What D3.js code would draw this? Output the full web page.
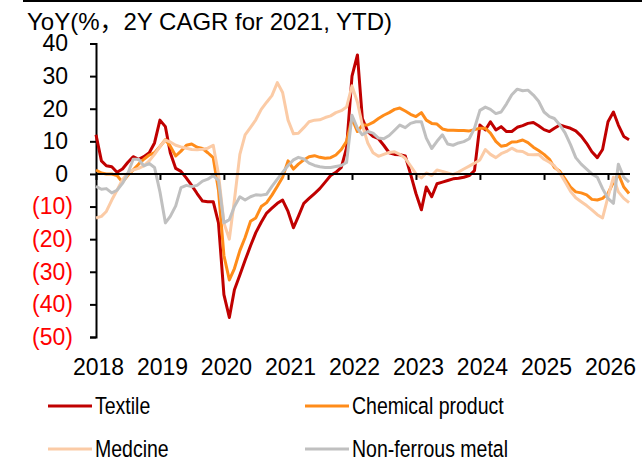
<!DOCTYPE html>
<html>
<head>
<meta charset="utf-8">
<script src="https://cdnjs.cloudflare.com/ajax/libs/d3/7.8.5/d3.min.js"></script>
<style>
  body { margin: 0; background: #fff; }
  svg { display: block; font-family: "Liberation Sans", Arial, "Noto Sans CJK SC", sans-serif; }
</style>
</head>
<body>
<svg width="642" height="464"></svg>
<script>
// monthly points, Jan 2018 .. May 2026
let months = d3.timeMonth.range(new Date(2018, 0, 1), new Date(2026, 5, 1));
let years = [2018, 2019, 2020, 2021, 2022, 2023, 2024, 2025, 2026];
let yTicks = [-50, -40, -30, -20, -10, 0, 10, 20, 30, 40];

let seriesNames = ["Textile", "Chemical product", "Medcine", "Non-ferrous metal"];
let seriesColors = ["#C00000", "#FF8C1A", "#FBCBA6", "#C0C0C0"];

let textile = [12, 4, 2.5, 2.2, 0.5, 1.5, 3.5, 5.3, 4.5, 5.3, 6.5, 9.5, 16.5, 14.5, 6.5, 1.7, 0.8, -1.3, -3.5, -6,
  -8.3, -8.5, -8.5, -15, -37, -44, -35.5, -31, -26.5, -22, -18, -14.8, -12, -10.5, -9, -8, -11.5, -16.5, -13, -9,
  -7.5, -6, -4.5, -2.5, -0.5, 0.5, 2, 8, 30, 36.5, 17, 13, 11.5, 10.8, 8.8, 6.5, 6, 5.9, 5.5, 0,
  -6, -11, -4, -7, -3, -2.5, -2, -1.5, -1.3, -1, -0.5, 1, 15, 13.5, 16, 13.5, 14.5, 13, 13, 14.3,
  14.8, 15.5, 15.8, 14.8, 13.6, 13, 14, 15, 14.5, 14, 13.2, 11.6, 9.4, 6.8, 5, 7.5, 16, 19, 15, 11.5, 10.5];

let chemical = [1.2, 0.3, 0, 0, -0.5, -2.5, -0.5, 1.2, 3, 4.5, 5.8, 6.5, 8.4, 10.5, 8.5, 5.5, 7, 8.8, 9.2, 8.2,
  7.8, 6.5, 5, -5, -25, -32.5, -29, -23.5, -19.5, -14.5, -13.5, -10, -8.8, -6.5, -3.8, -1, 4, 1.5, 3, 4.3,
  5.3, 5.6, 5.1, 4.8, 5, 5.8, 7.5, 10, 17, 13, 15, 15, 15.8, 17, 18, 18.8, 19.8, 20.2, 19.3, 18.3,
  17.6, 18.8, 16.5, 15.5, 15.3, 13.8, 13.4, 13.4, 13.3, 13.3, 13.2, 13.6, 14, 14, 12.5, 10, 8.5, 8.8, 9.8, 9.9,
  10.4, 9.6, 8.2, 7.2, 6, 4.5, 2, 0.8, -1.5, -4, -5.5, -5.8, -6.4, -7.8, -8, -7.5, -6, -2.5, 0, -4, -6];

let medicine = [-13.5, -13, -11.5, -8, -5, -1.8, 0.2, 1.2, 1.7, 2.5, 4, 6, 8.4, 10.4, 9.8, 8.8, 8.3, 7.9, 7.5, 7.4,
  7.6, 7.9, 8.8, 0, -15, -20, -8, 6, 12, 14.3, 16.6, 19.8, 22, 24, 28, 25, 16.5, 12.3, 12.5, 14.2,
  16, 16.5, 16.6, 17.3, 17.8, 18.8, 19.4, 20.5, 27, 22, 15, 9.5, 6.5, 5.4, 6, 6.6, 6.8, 6, 4.8, 2.5,
  0, -1.2, 0.3, -0.5, 1.2, 0.8, 0.3, -0.2, 0.6, 1.5, 2.4, 3.3, 4.3, 7.5, 6, 5, 6.2, 6.9, 7.9, 7,
  6.9, 6, 5.9, 6, 4.5, 3.6, 2.5, 0.3, -2.4, -5.3, -7.3, -8.5, -9.7, -11, -12.5, -13.5, -7, -1, -5.5, -7.5, -8.8];

let nonferrous = [-3.8, -4.7, -4.5, -5.8, -5, -2.9, 0, 4.5, 4.5, 2.5, 3.2, 2, -5.5, -15, -13, -9.8, -4.2, -3.5, -3.9, -3.5,
  -2.2, -1.6, -0.5, -2, -15, -14, -10, -7, -8, -7, -6.4, -6.5, -6.2, -3.8, -1.6, 0.5, 2.6, 4.3, 5.1, 4.6,
  3.3, 2.6, 2.2, 2, 2, 2.3, 2.6, 3.5, 18, 14, 12, 13, 12.5, 11, 10.8, 11.8, 13.4, 15, 14.2, 15.5,
  16, 16, 11, 7.8, 10, 12, 9.2, 8.8, 9.5, 9.9, 10.8, 14, 19.5, 20.5, 19.8, 18.5, 19, 21.5, 24.3, 26,
  25.5, 25.7, 24.2, 22.3, 19, 17.6, 17, 15, 12.6, 9, 5, 3, 1.5, 0, -1, -4.5, -7.5, -9, 3, -1, -2.5];

let allSeries = [textile, chemical, medicine, nonferrous];

let svg = d3.select("svg");

let x = d3.scaleTime()
    .domain([new Date(2018, 0, 1), new Date(2026, 0, 1)])
    .range([96, 608]);

let y = d3.scaleLinear()
    .domain([-50, 40])
    .range([337, 43.5]);

// top rule
svg.append("line")
    .attr("x1", 23).attr("x2", 642)
    .attr("y1", 1).attr("y2", 1)
    .attr("stroke", "#000")
    .attr("stroke-width", 2);

// title
svg.append("text")
    .attr("x", 27)
    .attr("y", 30)
    .attr("font-size", 24)
    .attr("fill", "#000")
    .text("YoY(%，2Y CAGR for 2021, YTD)");

// y axis
let yAxis = svg.append("g")
    .attr("transform", "translate(96,0)")
    .call(d3.axisLeft(y)
        .tickValues(yTicks)
        .tickSize(6)
        .tickFormat(d => d < 0 ? "(" + (-d) + ")" : d));
yAxis.select(".domain").attr("stroke", "#000").attr("stroke-width", 2);
yAxis.selectAll(".tick line").attr("stroke", "#000").attr("stroke-width", 2);
yAxis.selectAll(".tick text")
    .attr("font-size", 23)
    .attr("font-family", "'Liberation Sans', Arial, sans-serif")
    .attr("x", d => d < 0 ? -23 : -28)
    .attr("fill", d => d < 0 ? "#FF0000" : "#000");

// lines
let line = d3.line()
    .x((d, i) => x(months[i]))
    .y(d => y(d));

svg.append("g")
    .selectAll("path")
    .data(allSeries)
    .enter()
    .append("path")
    .attr("d", d => line(d))
    .attr("fill", "none")
    .attr("stroke", (d, i) => seriesColors[i])
    .attr("stroke-width", 3)
    .attr("stroke-linejoin", "round");

// x axis at zero
let xAxis = svg.append("g")
    .attr("transform", "translate(0," + y(0) + ")")
    .call(d3.axisBottom(x)
        .tickValues(years.map(yr => new Date(yr, 0, 1)))
        .tickSize(6)
        .tickFormat(""));
xAxis.select(".domain")
    .attr("d", "M96,0H630")
    .attr("stroke", "#000").attr("stroke-width", 2);
xAxis.selectAll(".tick line").attr("stroke", "#000").attr("stroke-width", 2);

// x labels at bottom
let xLabels = svg.append("g")
    .attr("transform", "translate(2,362)")
    .call(d3.axisBottom(x)
        .tickValues(years.map(yr => new Date(yr, 0, 1)))
        .tickSize(0)
        .tickFormat(d3.timeFormat("%Y")));
xLabels.select(".domain").remove();
xLabels.selectAll(".tick text")
    .attr("font-size", 23)
    .attr("font-family", "'Liberation Sans', Arial, sans-serif")
    .attr("fill", "#000")
    .attr("dy", "0.45em");

// legend
let legendPos = [[48, 406], [305, 406], [48, 449], [305, 449]];
let legend = svg.append("g")
    .selectAll("g")
    .data(seriesNames)
    .enter()
    .append("g")
    .attr("transform", (d, i) => "translate(" + legendPos[i][0] + "," + legendPos[i][1] + ")");
legend.append("line")
    .attr("x1", 0).attr("x2", 44)
    .attr("stroke", (d, i) => seriesColors[i])
    .attr("stroke-width", 3);
legend.append("text")
    .attr("transform", "translate(47,8) scale(0.83,1)")
    .attr("font-size", 23.5)
    .attr("fill", "#000")
    .text(d => d);
</script>
</body>
</html>
